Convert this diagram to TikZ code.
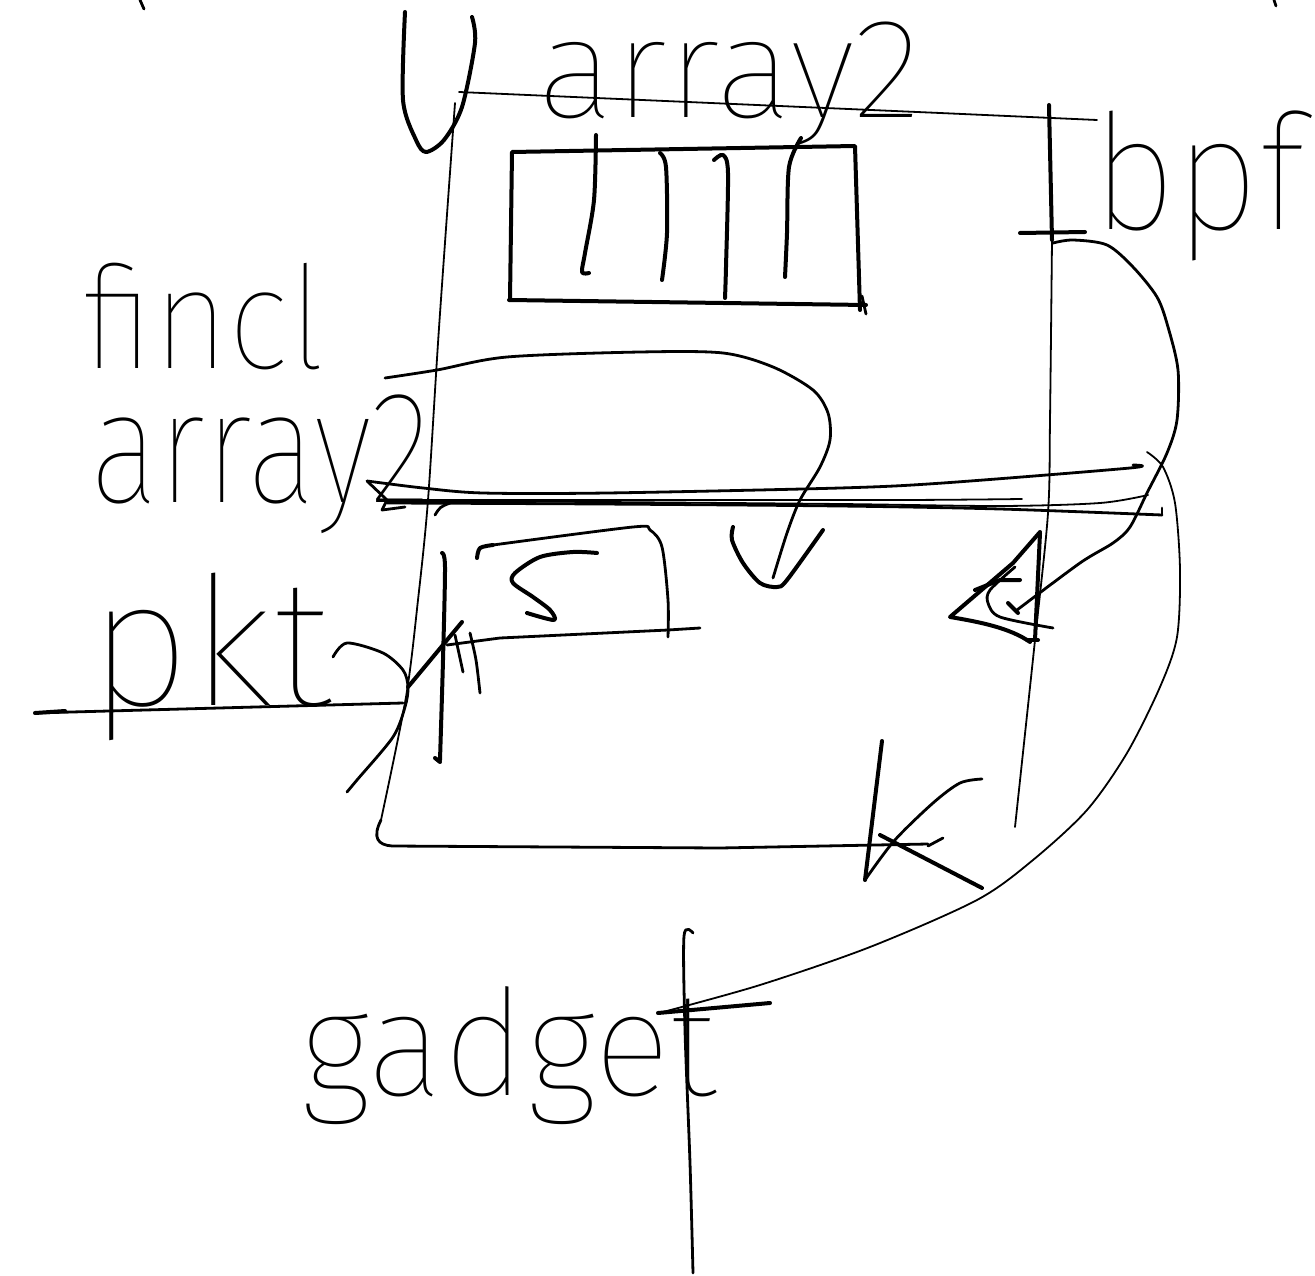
\documentclass[tikz,border=0pt]{standalone}
\usepackage{fontspec}
\IfFontExistsTF{Fira Sans Thin}{\newfontfamily\hand{Fira Sans Thin}}{%
  \IfFontExistsTF{Fira Sans Light}{\newfontfamily\hand{Fira Sans Light}}{%
    \IfFontExistsTF{Open Sans Light}{\newfontfamily\hand{Open Sans Light}}{%
      \newfontfamily\hand{lmmonolt10-regular.otf}}}}
\newcommand{\handsize}[1]{\hand\fontsize{#1}{#1}\selectfont}
\tikzset{
  pen/.style={line width=4pt, line cap=round, line join=round},
  mid/.style={line width=2.8pt, line cap=round, line join=round},
  fine/.style={line width=1.8pt, line cap=round, line join=round},
  word/.style={inner sep=0pt, outer sep=0pt, anchor=base west},
}
\begin{document}
\begin{tikzpicture}[x=1pt, y=-1pt]
\useasboundingbox[fill=white] (0,0) rectangle (1315,1276);

% --- labels ---
\node[word, font=\handsize{142}] (toparray) at (537,118) {\scalebox{1.03}[1]{array2}};
\node[word, font=\handsize{140}] (bpf) at (1092,230) {\scalebox{1.05}[1.15]{bpf}};
\node[word, font=\handsize{130}] (fincl) at (82,368) {\scalebox{1}[1.1]{fincl}};
\node[word, font=\handsize{160}] (leftarray) at (90,502) {\scalebox{0.81}[1]{array2}};
\node[word, font=\handsize{180}] (pkt) at (88,705) {pkt};
\node[word, font=\handsize{148}] (gadget) at (300,1095) {\scalebox{0.97}[1]{gadget}};

% --- small marks at the top edge ---
\draw[mid] (140,0) -- (144,9);
\draw[mid] (1274,0) -- (1276,6);

% --- bracket left of the top label ---
\draw[pen] plot[smooth] coordinates {(405,12) (403,100) (416,140) (426,152) (444,140) (462,107) (475,43) (472,17)};

% --- top rule ---
\draw[fine] (459,92) -- (940,113) -- (1097,120);

% --- frame: left side and bottom ---
\draw[fine] plot[smooth] coordinates {(455,103) (439,328) (428,500) (418,600) (406,697) (381,820)};
\draw[mid] (381,820) .. controls (372,838) and (378,845) .. (392,846) -- (720,848) -- (928,844);

% --- frame: right side ---
\draw[pen] (1049,105) -- (1052,240);
\draw[fine] plot[smooth] coordinates {(1052,240) (1050,420) (1048,513) (1035,640) (1015,827)};
\draw[pen] (1020,233) -- (1085,232);

% --- array box and its cells ---
\draw[pen] (510,300) -- (512,152) -- (855,146) -- (860,310);
\draw[pen] (509,300) -- (866,305);
\draw[mid] (862,296) -- (866,314);
\draw[pen] plot[smooth] coordinates {(596,135) (594,200) (585,253) (582,272) (589,273)};
\draw[pen] plot[smooth] coordinates {(660,153) (666,167) (667,233) (662,280)};
\draw[pen] plot[smooth] coordinates {(714,160) (723,155) (728,173) (726,267) (725,298)};
\draw[pen] plot[smooth] coordinates {(801,138) (789,167) (787,233) (785,277)};

% --- curve from the left label down into the V head ---
\draw[mid] plot[smooth] coordinates {(385,378) (437,370) (507,357) (640,352) (723,353) (773,367) (813,390) (828,413) (830,440) (820,467) (800,500) (787,533) (773,578)};
\draw[pen] plot[smooth] coordinates {(733,527) (732,540) (743,563) (760,583) (777,587) (787,580) (823,530)};

% --- bundle of lines ending in the left arrow head ---
\draw[mid] (367,481) -- (387,500) -- (382,510);
\draw[mid] (382,510) -- (405,507);
\draw[mid] (435,515) .. controls (440,507) .. (450,503);
\draw[mid] plot[smooth] coordinates {(367,481) (423,488) (483,493) (607,493) (840,488) (943,483) (1130,468) (1133,465)};
\draw[fine] plot[smooth] coordinates {(387,500) (600,500) (900,500) (1022,499)};
\draw[fine] plot[smooth] coordinates {(387,501) (600,502) (840,504) (1000,506) (1100,503) (1148,495)};
\draw[mid] plot[smooth] coordinates {(387,503) (600,504) (840,506) (1000,509) (1162,515)};
\draw[mid] (1162,515) -- (1162,508);

% --- curve from bpf down to the triangle ---
\draw[mid] plot[smooth] coordinates {(1053,243) (1073,240) (1107,245) (1133,267) (1157,297) (1168,327) (1178,370) (1177,420) (1167,453) (1147,493) (1130,527) (1113,543) (1080,563) (1017,610)};
\draw[pen] (1008,603) -- (1018,613);

% --- triangle mark ---
\draw[pen] (1040,532) -- (1013,563) -- (950,617) .. controls (980,622) and (1010,628) .. (1030,642);
\draw[pen] (1040,533) -- (1035,640);
\draw[pen] (975,590) -- (1000,580) -- (1020,580);
\draw[mid] plot[smooth] coordinates {(1015,567) (990,590) (988,603) (1000,617) (1053,628)};
\draw[pen] (1027,640) -- (1038,640);

% --- long curve from the crossing down to gadget ---
\draw[fine] plot[smooth] coordinates {(1147,452) (1163,467) (1175,503) (1180,570) (1177,637) (1160,687) (1127,753) (1087,810) (1033,860) (977,900) (870,947) (760,985) (663,1012)};
\draw[pen] (658,1013) -- (770,1003);
\draw[mid] plot[smooth] coordinates {(693,933) (684,936) (685,1030) (690,1163) (693,1273)};

% --- K mark at the bottom right ---
\draw[pen] (882,741) -- (865,880);
\draw[mid] plot[smooth] coordinates {(865,880) (894,841) (933,803) (960,783) (982,779)};
\draw[pen] (880,835) -- (982,888);
\draw[mid] (928,846) -- (943,838);

% --- pkt underline and arrow into the frame ---
\draw[pen] (35,713) -- (65,711);
\draw[mid] (35,713) -- (403,703);
\draw[mid] plot[smooth] coordinates {(333,657) (347,643) (383,653) (403,670) (408,687) (405,707) (393,737) (357,780) (347,792)};
\draw[pen] (408,687) -- (462,622);
\draw[pen] plot[smooth] coordinates {(442,553) (445,567) (443,660) (440,760)};
\draw[pen] (435,758) -- (440,762);
\draw[mid] (455,635) -- (463,672);
\draw[mid] plot[smooth] coordinates {(470,633) (476,660) (480,693)};
\draw[mid] (447,645) -- (500,638) -- (668,630) -- (700,628);

% --- inner bracket and S mark ---
\draw[pen] plot[smooth] coordinates {(477,558) (480,548) (493,545)};
\draw[mid] plot[smooth] coordinates {(493,545) (633,527) (650,530) (662,547) (668,600) (668,637)};
\draw[pen] plot[smooth] coordinates {(597,553) (573,552) (540,557) (515,573) (513,583) (533,597) (550,610) (554,620) (527,613)};
\end{tikzpicture}
\end{document}
